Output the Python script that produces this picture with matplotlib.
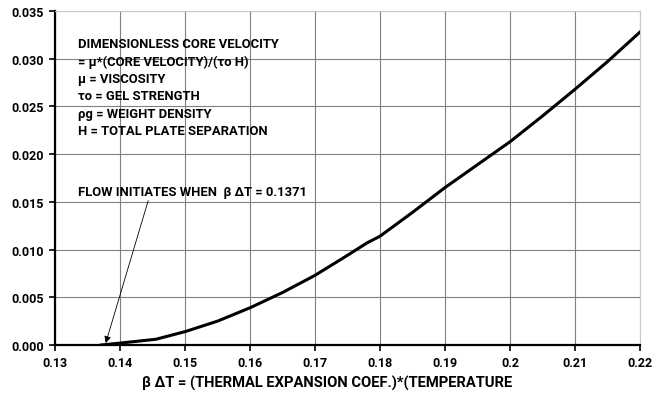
import matplotlib
matplotlib.use('Agg')
import matplotlib.pyplot as plt

# data
beta_dt = [0.1371, 0.140, 0.1455, 0.150, 0.155, 0.160, 0.165, 0.170, 0.175, 0.178,
           0.180, 0.185, 0.190, 0.195, 0.200, 0.205, 0.210, 0.215, 0.220]
core_vel = [0.0000, 0.0002, 0.0006, 0.0014, 0.0025, 0.0039, 0.0055, 0.0073, 0.0094, 0.0107,
            0.0114, 0.0139, 0.0165, 0.0189, 0.0213, 0.0240, 0.0268, 0.0297, 0.0328]

x_ticks = [0.13, 0.14, 0.15, 0.16, 0.17, 0.18, 0.19, 0.20, 0.21, 0.22]
x_labels = ['0.13', '0.14', '0.15', '0.16', '0.17', '0.18', '0.19', '0.2', '0.21', '0.22']
y_ticks = [0.000, 0.005, 0.010, 0.015, 0.020, 0.025, 0.030, 0.035]
y_labels = ['0.000', '0.005', '0.010', '0.015', '0.020', '0.025', '0.030', '0.035']

note_lines = ['DIMENSIONLESS CORE VELOCITY',
              '= \u03bc*(CORE VELOCITY)/(\u03c4o H)',
              '\u03bc = VISCOSITY',
              '\u03c4o = GEL STRENGTH',
              '\u03c1g = WEIGHT DENSITY',
              'H = TOTAL PLATE SEPARATION']
flow_start = 0.1371

# Liberation Sans has no bold here, Roboto Bold is the closest Arial-like face
plt.rcParams['font.family'] = ['Roboto', 'DejaVu Sans']
plt.rcParams['font.weight'] = 'bold'

fig = plt.figure(figsize=(6.62, 4.02), dpi=100)
ax = fig.add_axes([0.0831, 0.1393, 0.8837, 0.8308])

ax.plot(beta_dt, core_vel, color='black', lw=2.2, zorder=3)

ax.set_xlim(0.13, 0.22)
ax.set_ylim(0.0, 0.035)
ax.set_xticks(x_ticks)
ax.set_xticklabels(x_labels, fontsize=9.0, fontweight='bold')
ax.set_yticks(y_ticks)
ax.set_yticklabels(y_labels, fontsize=9.0, fontweight='bold')
ax.grid(True, color='#808080', lw=0.8)
ax.set_axisbelow(True)

for s in ['top', 'right']:
    ax.spines[s].set_color('#c8c8c8')
    ax.spines[s].set_linewidth(0.8)
for s in ['left', 'bottom']:
    ax.spines[s].set_color('black')
    ax.spines[s].set_linewidth(1.6)
ax.tick_params(direction='out', length=4, width=1.2, colors='black', pad=4)

# note block
y0 = 0.0316
for i, line in enumerate(note_lines):
    ax.text(0.13354, y0 - i * 0.00183, line, fontsize=9.4, fontweight='bold', va='center')

ax.annotate('FLOW INITIATES WHEN  \u03b2 \u0394T = %.4f' % flow_start,
            xy=(0.1378, 0.0002), xytext=(0.13354, 0.0161),
            fontsize=9.4, fontweight='bold', va='center',
            arrowprops=dict(arrowstyle='-|>', color='black', lw=0.6,
                            shrinkA=0, shrinkB=0, mutation_scale=10,
                            relpos=(0.31, 0.0)))

fig.text(327 / 662, 1 - 383 / 402,
         '\u03b2 \u0394T = (THERMAL EXPANSION COEF.)*(TEMPERATURE',
         fontsize=10.6, fontweight='bold', ha='center', va='center')

fig.savefig('out.png', dpi=100)
